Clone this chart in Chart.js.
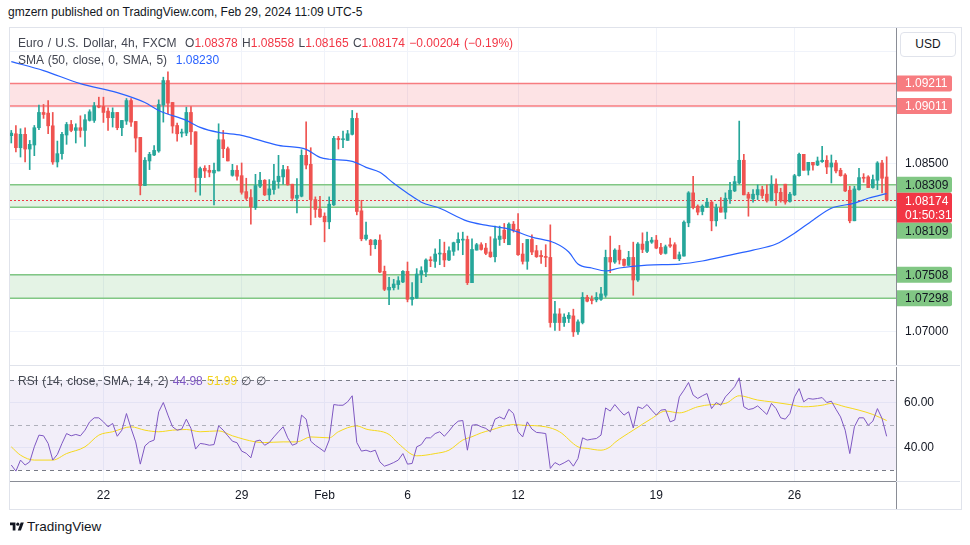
<!DOCTYPE html>
<html lang="en">
<head>
<meta charset="UTF-8">
<title>EUR/USD 4h</title>
<script src="https://cdn.jsdelivr.net/npm/chart.js@4.4.1/dist/chart.umd.min.js"></script>
<style>
  * { margin: 0; padding: 0; box-sizing: border-box; }
  body { width: 970px; height: 545px; background: #fff; position: relative; overflow: hidden;
         font-family: 'Liberation Sans', Arial, sans-serif; color: #131722; }
  .abs { position: absolute; white-space: nowrap; }
  #frame { position: absolute; left: 9px; top: 27px; width: 953px; height: 483px; border: 1px solid #e0e3eb; }
  #main { position: absolute; left: 10px; top: 28px; }
  #rsi { position: absolute; left: 10px; top: 367px; }
  .hdr { left: 8px; top: 5px; font-size: 12px; color: #131722; }
  .leg { left: 18px; font-size: 12px; color: #434651; word-spacing: 1px; }
  .r { color: #f23645; }
  .b { color: #2962ff; }
  .p { color: #7e57c2; }
  .yl { color: #f2d21b; }
  #usd { left: 900px; top: 32px; width: 56px; height: 25px; border: 1px solid #e0e3eb; border-radius: 4px;
         font-size: 12px; line-height: 23px; text-align: center; background: #fff; }
  .logo { left: 10px; top: 519px; font-size: 13.5px; color: #131722; display: flex; align-items: center; gap: 3px; }
</style>
</head>
<body>
<div id="frame"></div>
<div class="abs hdr">gmzern published on TradingView.com, Feb 29, 2024 11:09 UTC-5</div>
<canvas id="main" width="950" height="338"></canvas>
<canvas id="rsi" width="950" height="142"></canvas>
<div class="abs leg" style="top:36px">Euro / U.S. Dollar, 4h, FXCM&nbsp; O<span class="r">1.08378</span> H<span class="r">1.08558</span> L<span class="r">1.08165</span> C<span class="r">1.08174</span> <span class="r">−0.00204 (−0.19%)</span></div>
<div class="abs leg" style="top:53px">SMA (50, close, 0, SMA, 5)&nbsp; <span class="b">1.08230</span></div>
<div class="abs leg" style="top:374px">RSI (14, close, SMA, 14, 2) <span class="p">44.98</span> <span class="yl">51.99</span> ∅ ∅</div>
<div class="abs" id="usd">USD</div>
<div class="abs logo">
  <svg width="14" height="11" viewBox="0 0 36 28"><path d="M14 24H7V11H0V4h14v20zM28 24h-8l7.5-20h8L28 24z" fill="#131722"/><circle cx="20" cy="8" r="4" fill="#131722"/></svg>
  <span>TradingView</span>
</div>

<script>
// 4h candles, oldest first
const opens = [1.08746,1.08763,1.08639,1.08758,1.08627,1.08663,1.08817,1.08953,1.08947,1.08834,
  1.08512,1.08586,1.08752,1.08846,1.08793,1.08817,1.08793,1.08882,1.08882,1.09012,
  1.09006,1.08965,1.08906,1.08953,1.08817,1.08876,1.09059,1.08873,1.08731,1.08302,
  1.08521,1.08574,1.08610,1.09018,1.09237,1.09042,1.08837,1.08769,1.08769,1.08953,
  1.08781,1.08373,1.08456,1.08438,1.08414,1.08432,1.08710,1.08630,1.08393,1.08438,
  1.08390,1.08248,1.08195,1.08106,1.08296,1.08349,1.08219,1.08266,1.08337,1.08379,
  1.08444,1.08314,1.08189,1.08207,1.08571,1.08491,1.08177,1.08094,1.08029,1.07979,
  1.08130,1.08722,1.08710,1.08704,1.08758,1.08900,1.08077,1.07828,1.07816,1.07775,
  1.07816,1.07538,1.07372,1.07393,1.07420,1.07443,1.07538,1.07289,1.07301,1.07508,
  1.07532,1.07639,1.07627,1.07692,1.07698,1.07639,1.07716,1.07793,1.07816,1.07822,
  1.07437,1.07727,1.07775,1.07745,1.07710,1.07668,1.07822,1.07905,1.07775,1.07958,
  1.07911,1.07692,1.07627,1.07822,1.07722,1.07680,1.07668,1.07662,1.07082,1.07159,
  1.07082,1.07118,1.07141,1.06999,1.07082,1.07307,1.07289,1.07284,1.07289,1.07325,
  1.07662,1.07621,1.07727,1.07645,1.07591,1.07662,1.07461,1.07781,1.07716,1.07798,
  1.07816,1.07751,1.07698,1.07775,1.07775,1.07650,1.07674,1.07970,1.08237,1.08118,
  1.08071,1.08112,1.08154,1.07988,1.08106,1.08065,1.08183,1.08254,1.08325,1.08527,
  1.08225,1.08183,1.08219,1.08266,1.08225,1.08166,1.08314,1.08242,1.08314,1.08160,
  1.08219,1.08390,1.08580,1.08438,1.08509,1.08485,1.08515,1.08527,1.08467,1.08503,
  1.08438,1.08396,1.08260,1.07988,1.08266,1.08373,1.08379,1.08284,1.08349,1.08503,
  1.08378];
const highs = [1.08793,1.08837,1.08808,1.08817,1.08704,1.08837,1.09018,1.09024,1.09059,1.08953,
  1.08698,1.08775,1.08864,1.08882,1.08852,1.08923,1.08935,1.08977,1.09042,1.09089,
  1.09089,1.08994,1.08994,1.08953,1.08882,1.09077,1.09077,1.08873,1.08731,1.08550,
  1.08598,1.08657,1.09065,1.09267,1.09314,1.09042,1.08858,1.08805,1.09000,1.09006,
  1.08781,1.08467,1.08479,1.08482,1.08503,1.08852,1.08793,1.08645,1.08491,1.08479,
  1.08503,1.08367,1.08266,1.08402,1.08420,1.08355,1.08355,1.08491,1.08571,1.08482,
  1.08473,1.08314,1.08364,1.08621,1.08870,1.08639,1.08201,1.08207,1.08059,1.08201,
  1.08740,1.08740,1.08787,1.08793,1.08971,1.08947,1.08171,1.07976,1.07822,1.07822,
  1.07864,1.07585,1.07485,1.07467,1.07491,1.07544,1.07621,1.07437,1.07562,1.07579,
  1.07650,1.07668,1.07739,1.07822,1.07798,1.07757,1.07798,1.07881,1.07887,1.07852,
  1.07828,1.07787,1.07793,1.07787,1.07846,1.07941,1.07941,1.07964,1.07970,1.07982,
  1.08053,1.07787,1.07822,1.07864,1.07769,1.07722,1.07775,1.07952,1.07272,1.07206,
  1.07159,1.07171,1.07201,1.07106,1.07349,1.07325,1.07319,1.07349,1.07396,1.07727,
  1.07852,1.07739,1.07769,1.07650,1.07716,1.07798,1.07793,1.07881,1.07887,1.07840,
  1.07858,1.07787,1.07772,1.07834,1.07793,1.07710,1.07988,1.08248,1.08385,1.08130,
  1.08130,1.08189,1.08166,1.08136,1.08195,1.08237,1.08331,1.08385,1.08876,1.08580,
  1.08242,1.08266,1.08308,1.08296,1.08308,1.08390,1.08361,1.08278,1.08314,1.08242,
  1.08402,1.08592,1.08580,1.08509,1.08509,1.08556,1.08651,1.08568,1.08574,1.08527,
  1.08456,1.08408,1.08296,1.08296,1.08456,1.08408,1.08390,1.08396,1.08515,1.08527,
  1.08558];
const lows = [1.08681,1.08601,1.08556,1.08512,1.08444,1.08568,1.08799,1.08900,1.08763,1.08491,
  1.08467,1.08538,1.08669,1.08781,1.08681,1.08734,1.08651,1.08876,1.08864,1.08994,
  1.08864,1.08793,1.08823,1.08799,1.08746,1.08846,1.08829,1.08601,1.08219,1.08302,
  1.08444,1.08568,1.08598,1.08867,1.08941,1.08769,1.08698,1.08734,1.08746,1.08669,
  1.08245,1.08216,1.08373,1.08379,1.08130,1.08432,1.08550,1.08521,1.08385,1.08349,
  1.08225,1.08177,1.07958,1.08089,1.08284,1.08213,1.08171,1.08225,1.08278,1.08314,
  1.08305,1.08166,1.08059,1.08201,1.08450,1.07952,1.08018,1.08018,1.07801,1.07917,
  1.08124,1.08627,1.08639,1.08704,1.08752,1.08041,1.07810,1.07816,1.07680,1.07739,
  1.07526,1.07366,1.07242,1.07372,1.07378,1.07437,1.07266,1.07236,1.07295,1.07437,
  1.07491,1.07579,1.07574,1.07597,1.07579,1.07633,1.07680,1.07727,1.07686,1.07420,
  1.07437,1.07727,1.07727,1.07686,1.07662,1.07621,1.07769,1.07793,1.07775,1.07887,
  1.07680,1.07603,1.07556,1.07686,1.07662,1.07609,1.07579,1.07041,1.07011,1.07011,
  1.07047,1.07082,1.06958,1.06976,1.07070,1.07266,1.07248,1.07266,1.07278,1.07307,
  1.07526,1.07609,1.07603,1.07585,1.07591,1.07325,1.07449,1.07704,1.07704,1.07787,
  1.07739,1.07686,1.07692,1.07751,1.07650,1.07633,1.07674,1.07935,1.08094,1.08041,
  1.08041,1.08106,1.07899,1.07941,1.08065,1.08006,1.08142,1.08248,1.08314,1.08219,
  1.08029,1.08154,1.08177,1.08189,1.08154,1.08166,1.08124,1.08154,1.08136,1.08154,
  1.08213,1.08385,1.08438,1.08396,1.08438,1.08479,1.08509,1.08408,1.08325,1.08414,
  1.08385,1.08248,1.07970,1.07988,1.08260,1.08331,1.08284,1.08278,1.08266,1.08237,
  1.08165];
const closes = [1.08769,1.08639,1.08758,1.08627,1.08669,1.08817,1.08953,1.08935,1.08834,1.08512,
  1.08586,1.08758,1.08846,1.08793,1.08817,1.08793,1.08888,1.08959,1.09012,1.09000,
  1.08953,1.08906,1.08953,1.08817,1.08882,1.09059,1.08867,1.08725,1.08302,1.08527,
  1.08580,1.08615,1.09024,1.09237,1.09036,1.08832,1.08763,1.08778,1.08953,1.08781,
  1.08373,1.08453,1.08432,1.08420,1.08438,1.08710,1.08630,1.08521,1.08438,1.08385,
  1.08242,1.08189,1.08112,1.08302,1.08349,1.08219,1.08272,1.08343,1.08385,1.08444,
  1.08308,1.08189,1.08216,1.08571,1.08485,1.08177,1.08089,1.08023,1.07979,1.08136,
  1.08722,1.08710,1.08716,1.08763,1.08900,1.08071,1.07828,1.07861,1.07775,1.07816,
  1.07532,1.07378,1.07396,1.07425,1.07455,1.07538,1.07289,1.07307,1.07514,1.07544,
  1.07639,1.07633,1.07692,1.07698,1.07639,1.07722,1.07793,1.07822,1.07822,1.07437,
  1.07733,1.07775,1.07733,1.07698,1.07668,1.07828,1.07852,1.07828,1.07958,1.07905,
  1.07686,1.07627,1.07822,1.07710,1.07668,1.07668,1.07662,1.07082,1.07159,1.07082,
  1.07130,1.07147,1.06999,1.07088,1.07307,1.07272,1.07278,1.07307,1.07337,1.07662,
  1.07621,1.07727,1.07639,1.07591,1.07662,1.07461,1.07781,1.07733,1.07804,1.07816,
  1.07745,1.07698,1.07757,1.07763,1.07650,1.07686,1.07976,1.08237,1.08106,1.08065,
  1.08118,1.08154,1.07988,1.08106,1.08065,1.08189,1.08260,1.08337,1.08527,1.08219,
  1.08189,1.08225,1.08266,1.08213,1.08166,1.08314,1.08237,1.08166,1.08154,1.08225,
  1.08390,1.08580,1.08438,1.08509,1.08485,1.08521,1.08527,1.08467,1.08503,1.08432,
  1.08390,1.08254,1.07988,1.08272,1.08373,1.08367,1.08284,1.08355,1.08503,1.08367,
  1.08174];

// SMA(50): [candle index, value]
const smaPoints = [[0,1.09406],[7,1.09326],[15,1.09210],[23,1.09130],[29,1.09042],[32,1.08971],
  [38,1.08882],[41,1.08820],[45,1.08775],[50,1.08749],[54,1.08704],[58,1.08660],[64,1.08624],
  [67,1.08553],[69,1.08536],[74,1.08518],[77,1.08464],[80,1.08420],[83,1.08322],[86,1.08234],
  [89,1.08154],[93,1.08100],[99,1.07985],[103,1.07949],[108,1.07914],[113,1.07843],[118,1.07790],
  [121,1.07710],[123,1.07603],[126,1.07568],[129,1.07541],[132,1.07568],[138,1.07594],[145,1.07603],
  [150,1.07630],[156,1.07683],[161,1.07727],[166,1.07781],[170,1.07878],[174,1.07994],[178,1.08100],
  [183,1.08145],[186,1.08189],[190,1.08230]];

// RSI(14), one value per candle
const rsiValues = [32.2,29.5,34.4,32.2,33.6,40.3,45.5,45.2,41.8,34.4,
  36.9,41.8,46.2,45.2,45.8,45.2,47.7,51.4,53.2,53.2,
  51.4,49.2,50.7,45.0,47.7,55.1,48.5,42.5,32.6,40.7,
  42.5,43.3,55.9,60.0,54.4,49.2,47.7,48.2,52.6,48.5,
  39.3,41.8,41.5,41.0,41.3,49.6,47.7,45.2,42.8,42.1,
  38.4,37.4,35.4,42.8,43.3,41.0,42.2,44.7,47.0,49.2,
  44.3,41.0,41.8,54.4,52.6,42.8,41.0,39.6,38.1,43.3,
  59.1,58.8,58.8,60.3,63.0,42.2,38.4,38.8,38.1,38.8,
  33.6,31.7,32.4,33.3,34.4,37.3,32.6,32.9,40.3,41.3,
  44.3,44.3,46.2,47.0,45.0,47.3,49.9,51.7,52.0,38.8,
  49.9,50.2,49.2,48.5,47.0,52.6,53.6,52.6,57.0,55.1,
  47.0,44.7,51.4,48.2,46.7,46.5,46.2,30.7,33.3,32.2,
  33.2,34.4,31.7,35.1,44.3,43.3,43.7,44.0,45.5,57.6,
  56.2,59.1,56.6,54.4,55.9,48.7,58.1,57.3,59.1,56.6,
  54.4,56.6,56.9,51.4,52.2,62.5,65.5,68.9,63.3,61.8,
  63.0,64.0,57.3,60.0,58.8,62.5,64.7,67.0,71.0,58.1,
  56.9,57.3,58.5,56.6,54.7,59.6,57.3,53.2,52.6,55.1,
  62.5,66.2,60.3,61.8,61.5,61.8,62.2,60.0,60.6,57.0,
  53.6,47.7,37.3,49.2,53.2,53.2,49.9,51.7,57.3,52.9,
  44.98];

// RSI-based SMA(14)
const rsiMaPoints = [[0,40.3],[2,36.6],[5,34.4],[9,34.4],[12,37.3],[16,40.3],[19,45.5],[22,47.0],
  [26,49.2],[29,47.7],[32,47.0],[35,47.7],[38,48.0],[41,47.0],[45,47.4],[48,45.2],[53,42.5],
  [55,42.2],[59,42.5],[62,42.5],[65,44.7],[69,44.3],[71,47.0],[75,49.6],[77,48.2],[82,45.8],
  [84,41.8],[88,36.3],[92,37.3],[95,38.8],[98,43.3],[100,44.8],[102,46.5],[104,47.7],[109,50.2],
  [111,49.9],[116,49.2],[119,47.0],[123,40.3],[125,39.6],[128,38.8],[130,40.3],[131,42.2],
  [135,47.7],[139,52.9],[142,56.2],[145,55.4],[149,58.1],[152,59.1],[155,59.6],[158,63.0],
  [162,61.1],[165,60.3],[169,59.1],[172,58.1],[176,58.8],[178,59.6],[181,58.1],[184,56.6],
  [187,54.7],[190,51.99]];

// support / resistance zones
const zoneTops = [1.09211, 1.08309, 1.07508];
const zoneBottoms = [1.09011, 1.08109, 1.07298];
const zoneKinds = ['red', 'green', 'green'];

const lastPrice = 1.08174;
const countdown = '01:50:31';

// axes
const dateTickIdx = [20, 50, 68, 86, 110, 140, 170];
const dateTickLabels = ['22', '29', 'Feb', '6', '12', '19', '26'];
const priceGrid = [1.070, 1.075, 1.080, 1.085, 1.090, 1.095];
const priceShown = [1.070, 1.085];
const rsiGrid = [40, 60];
const rsiLevels = [70, 50, 30];

const FONT = "'Liberation Sans', Arial, sans-serif";
const UP = '#26a69a', DOWN = '#ef5350';
const X_MIN = -0.28, X_MAX = 192.03;

Chart.defaults.font.family = FONT;

const candleColors = closes.map((c, i) => c >= opens[i] ? UP : DOWN);

function hline(ctx, x1, x2, y) {
  ctx.beginPath(); ctx.moveTo(x1, y); ctx.lineTo(x2, y); ctx.stroke();
}

const mainDecor = {
  id: 'mainDecor',
  beforeDatasetsDraw(chart) {
    const { ctx, chartArea: a, scales: { y } } = chart;
    ctx.save();
    zoneTops.forEach((t, k) => {
      const y1 = y.getPixelForValue(t), y2 = y.getPixelForValue(zoneBottoms[k]);
      const red = zoneKinds[k] === 'red';
      ctx.fillStyle = red ? 'rgba(242,54,69,0.14)' : 'rgba(76,175,80,0.15)';
      ctx.fillRect(a.left, y1, a.width, y2 - y1);
      ctx.strokeStyle = red ? '#f77c80' : '#81c784';
      ctx.lineWidth = 1.6;
      hline(ctx, a.left, a.right, y1);
      hline(ctx, a.left, a.right, y2);
    });
    const yp = Math.round(y.getPixelForValue(lastPrice)) + 0.5;
    ctx.strokeStyle = '#f23645';
    ctx.lineWidth = 1;
    ctx.setLineDash([2, 2]);
    hline(ctx, a.left, a.right, yp);
    ctx.restore();
  },
  afterDraw(chart) {
    const { ctx, chartArea: a, scales: { y } } = chart;
    ctx.save();
    // axis line + pane separator
    ctx.strokeStyle = '#8a8d96';
    ctx.lineWidth = 1;
    ctx.beginPath(); ctx.moveTo(a.right + 0.5, 0); ctx.lineTo(a.right + 0.5, chart.height); ctx.stroke();
    ctx.strokeStyle = '#e0e3eb';
    hline(ctx, 0, chart.width, chart.height - 0.5);

    // price labels on the scale, pushed down when they overlap
    const items = [];
    zoneTops.forEach((t, k) => {
      const red = zoneKinds[k] === 'red';
      [t, zoneBottoms[k]].forEach(v => items.push({
        v, h: 16, bg: red ? '#f77c80' : '#81c784', fg: red ? '#ffffff' : '#131722',
        lines: [v.toFixed(5)]
      }));
    });
    items.push({ v: lastPrice, h: 30, bg: '#f23645', fg: '#ffffff', lines: [lastPrice.toFixed(5), countdown] });
    items.forEach(it => it.y = y.getPixelForValue(it.v));
    items.sort((p, q) => p.y - q.y);
    let prevBottom = -1e9;
    items.forEach(it => {
      it.y = Math.max(it.y, prevBottom + it.h / 2);
      prevBottom = it.y + it.h / 2;
    });
    ctx.font = '12px ' + FONT;
    ctx.textBaseline = 'middle';
    items.forEach(it => {
      ctx.fillStyle = it.bg;
      ctx.beginPath();
      ctx.roundRect(a.right + 1, it.y - it.h / 2, 55, it.h, [0, 2, 2, 0]);
      ctx.fill();
      ctx.fillStyle = it.fg;
      if (it.lines.length === 1) {
        ctx.fillText(it.lines[0], a.right + 9, it.y + 0.5);
      } else {
        ctx.fillText(it.lines[0], a.right + 9, it.y - 6.5);
        ctx.fillText(it.lines[1], a.right + 9, it.y + 7.5);
      }
    });
    ctx.restore();
  }
};

new Chart(document.getElementById('main'), {
  type: 'bar',
  data: {
    datasets: [
      {
        type: 'line', label: 'SMA', order: 0,
        data: smaPoints.map(p => ({ x: p[0], y: p[1] })),
        borderColor: '#2962ff', borderWidth: 1.2, pointRadius: 0, cubicInterpolationMode: 'monotone'
      },
      {
        label: 'body', order: 1, grouped: false, barThickness: 3, minBarLength: 1,
        data: opens.map((o, i) => ({ x: i, y: [o, closes[i]] })),
        backgroundColor: candleColors, borderWidth: 0
      },
      {
        label: 'wick', order: 2, grouped: false, barThickness: 1, minBarLength: 1,
        data: lows.map((l, i) => ({ x: i, y: [l, highs[i]] })),
        backgroundColor: candleColors, borderWidth: 0
      }
    ]
  },
  options: {
    responsive: false, animation: false, events: [],
    layout: { padding: 0 },
    plugins: { legend: { display: false }, tooltip: { enabled: false } },
    scales: {
      x: {
        type: 'linear', min: X_MIN, max: X_MAX, offset: false,
        afterBuildTicks(s) { s.ticks = dateTickIdx.map(v => ({ value: v })); },
        afterFit(s) { s.height = 0; s.paddingLeft = 0; s.paddingRight = 0; },
        ticks: { display: false },
        grid: { color: '#f0f3fa', drawTicks: false, offset: false },
        border: { display: false }
      },
      y: {
        position: 'right', min: 1.06695, max: 1.09705,
        afterBuildTicks(s) { s.ticks = priceGrid.map(v => ({ value: v })); },
        afterFit(s) { s.width = 64; s.paddingTop = 0; s.paddingBottom = 0; },
        ticks: {
          padding: 9, color: '#131722', font: { size: 12 },
          callback: v => priceShown.some(p => Math.abs(p - v) < 1e-9) ? v.toFixed(5) : ''
        },
        grid: { color: '#f0f3fa', drawTicks: false },
        border: { display: false }
      }
    }
  },
  plugins: [mainDecor]
});

const rsiDecor = {
  id: 'rsiDecor',
  beforeDatasetsDraw(chart) {
    const { ctx, chartArea: a, scales: { y } } = chart;
    ctx.save();
    const yTop = y.getPixelForValue(rsiLevels[0]), yBot = y.getPixelForValue(rsiLevels[2]);
    ctx.fillStyle = 'rgba(126,87,194,0.1)';
    ctx.fillRect(a.left, yTop, a.width, yBot - yTop);
    ctx.setLineDash([4, 4]);
    ctx.lineWidth = 1;
    rsiLevels.forEach((lv, k) => {
      ctx.strokeStyle = k === 1 ? 'rgba(120,123,134,0.55)' : '#787b86';
      hline(ctx, a.left, a.right, Math.round(y.getPixelForValue(lv)) + 0.5);
    });
    ctx.restore();
  },
  afterDraw(chart) {
    const { ctx, chartArea: a } = chart;
    ctx.save();
    ctx.lineWidth = 1;
    ctx.strokeStyle = '#8a8d96';
    ctx.beginPath(); ctx.moveTo(a.right + 0.5, 0); ctx.lineTo(a.right + 0.5, chart.height); ctx.stroke();
    hline(ctx, 0, a.right, a.bottom + 0.5);
    ctx.strokeStyle = '#e0e3eb';
    hline(ctx, a.right, chart.width, a.bottom + 0.5);
    ctx.restore();
  }
};

new Chart(document.getElementById('rsi'), {
  type: 'line',
  data: {
    datasets: [
      {
        label: 'RSI', data: rsiValues.map((v, i) => ({ x: i, y: v })),
        borderColor: '#7e57c2', borderWidth: 1, pointRadius: 0, tension: 0
      },
      {
        label: 'RSI MA', data: rsiMaPoints.map(p => ({ x: p[0], y: p[1] })),
        borderColor: '#f5d81e', borderWidth: 1, pointRadius: 0, cubicInterpolationMode: 'monotone'
      }
    ]
  },
  options: {
    responsive: false, animation: false, events: [],
    layout: { padding: 0 },
    plugins: { legend: { display: false }, tooltip: { enabled: false } },
    scales: {
      x: {
        type: 'linear', min: X_MIN, max: X_MAX, offset: false,
        afterBuildTicks(s) { s.ticks = dateTickIdx.map(v => ({ value: v })); },
        afterFit(s) { s.height = 28; s.paddingLeft = 0; s.paddingRight = 0; },
        ticks: {
          autoSkip: false, maxRotation: 0, padding: 7, color: '#131722', font: { size: 12 },
          callback: (v, i) => dateTickLabels[i]
        },
        grid: { color: '#f0f3fa', drawTicks: false },
        border: { display: false }
      },
      y: {
        position: 'right', min: 25.1, max: 75.8,
        afterBuildTicks(s) { s.ticks = rsiGrid.map(v => ({ value: v })); },
        afterFit(s) { s.width = 64; s.paddingTop = 0; s.paddingBottom = 0; },
        ticks: { padding: 8, color: '#131722', font: { size: 12 }, callback: v => v.toFixed(2) },
        grid: { color: '#f0f3fa', drawTicks: false },
        border: { display: false }
      }
    }
  },
  plugins: [rsiDecor]
});
</script>
</body>
</html>
